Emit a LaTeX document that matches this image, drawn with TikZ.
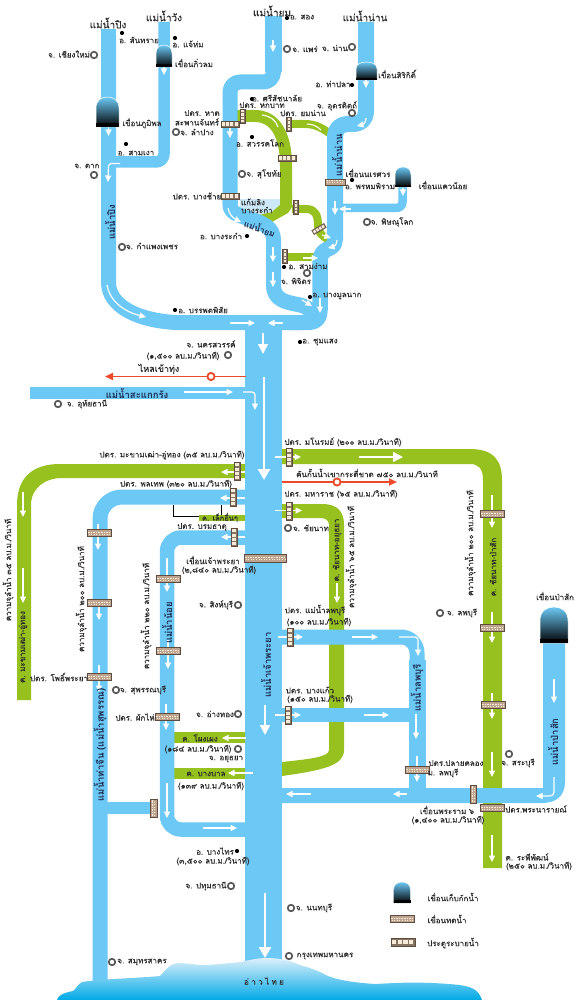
\documentclass[tikz,border=0pt]{standalone}
\usepackage{fontspec}
\setmainfont[Script=Thai]{Loma}
\newfontfamily\lbfont[Script=Thai,FakeBold=0.2]{Loma}
\usetikzlibrary{arrows.meta}
\definecolor{riv}{HTML}{6CC8F5}
\definecolor{grn}{HTML}{96C11E}
\definecolor{pale}{HTML}{CDE8F8}
\definecolor{redl}{HTML}{EB4A2B}
\definecolor{tan}{HTML}{BFA58F}
\definecolor{tandk}{HTML}{5E4C3E}
\definecolor{cream}{HTML}{F8EBD8}
\definecolor{ink}{HTML}{2A2A2A}
\definecolor{navy}{HTML}{1C2B4F}
\definecolor{ringc}{HTML}{5A5A5A}
\definecolor{dammid}{HTML}{8594A0}
\definecolor{seabot}{HTML}{00A9E6}
\tikzset{
 x=1pt,y=-1pt,
 lb/.style={font=\lbfont\fontsize{8}{9}\selectfont,text=ink,inner sep=0pt},
 hd/.style={font=\lbfont\fontsize{10}{11}\selectfont,text=ink,inner sep=0pt},
 rv/.style={font=\fontsize{9.5}{10}\selectfont\bfseries,text=navy,inner sep=0pt},
 vt/.style={rotate=90},
 rivl/.style={draw=riv,line cap=butt,line join=round},
 grl/.style={draw=grn,line cap=butt,line join=round},
 wa/.style={draw=white,line width=1.2pt,-{Triangle[width=6pt,length=6.5pt]}},
 wb/.style={draw=white,line width=1.7pt,-{Triangle[width=10pt,length=10pt]}},
 wc/.style={draw=white,line width=2.6pt,-{Triangle[width=12pt,length=11pt]}},
 redarrow/.style={draw=redl,line width=1.8pt,-{Triangle[width=7pt,length=8pt]}},
 ring/.style={circle,draw=ringc,line width=1.7pt,fill=white,minimum size=6.5pt,inner sep=0pt},
 dot/.style={circle,fill=black,minimum size=4.2pt,inner sep=0pt},
 redring/.style={circle,draw=redl,line width=1.7pt,fill=white,minimum size=7pt,inner sep=0pt},
}
% storage dam: centre x, top y, width, height
\newcommand{\resdam}[4]{%
 \path[top color=riv,middle color=dammid,bottom color=black,draw=white,line width=.5pt]
  ({#1-#3/2},{#2+#4}) -- ({#1-#3/2},{#2+#4*0.38})
  .. controls ({#1-#3/2},{#2+#4*0.1}) and ({#1-#3/4},{#2}) .. (#1,#2)
  .. controls ({#1+#3/4},{#2}) and ({#1+#3/2},{#2+#4*0.1}) .. ({#1+#3/2},{#2+#4*0.38})
  -- ({#1+#3/2},{#2+#4}) -- cycle;
 \fill[black] ({#1-#3/2},{#2+#4*0.88}) rectangle ({#1+#3/2},{#2+#4});}
% diversion dam: x,y,len,thick,rot
\newcommand{\regul}[5]{%
 \begin{scope}[shift={(#1,#2)},rotate=#5]
 \fill[tan,draw=tandk,line width=.5pt] ({-#3/2},{-#4/2}) rectangle ({#3/2},{#4/2});
 \draw[cream,line width=1pt,dash pattern=on 1.6pt off 1pt] ({-#3/2+1},-1) -- ({#3/2-1},-1);
 \draw[cream,line width=1pt,dash pattern=on 1pt off 1.6pt] ({-#3/2+1.5},1) -- ({#3/2-1},1);
 \end{scope}}
% gate: x,y,len,rot
\newcommand{\gatebox}[4]{%
 \begin{scope}[shift={(#1,#2)},rotate=#4]
 \fill[tan!70!black,draw=tandk,line width=.5pt] ({-#3/2},{-#3/6}) rectangle ({#3/2},{#3/6});
 \foreach \k in {0,1,2,3}{
  \fill[cream] ({-#3/2+#3*0.05+\k*#3*0.235},{-#3/6+#3*0.07}) rectangle ++({#3*0.17},{#3*0.19});}
 \end{scope}}
\begin{document}
\begin{tikzpicture}
\useasboundingbox (0,0) rectangle (580,1000);
\fill[white] (0,0) rectangle (580,1000);
% pale retention area
\fill[pale] (240,199) rectangle (282,216);
% ---- green canals
\draw[grl,line width=12pt] (237,116) -- (255,116) .. controls (275,116) and (286,135) .. (286,165) -- (286,200);
\fill[grn] (280,195) -- (292,195) -- (292,207) -- (288,213) -- (272,222) -- (255,218) -- (243,215) -- (255,216) -- (272,212) -- (280,205) -- cycle;
\draw[grl,line width=8pt] (288,124) -- (305,124) .. controls (315,124) and (322,128) .. (329,133);
\draw[grl,line width=8pt] (292,209) -- (306,209) .. controls (316,209) and (318,216) .. (318,226) .. controls (318,232) and (322,237) .. (330,240);
\draw[grl,line width=8pt] (282,257) -- (320,257);
\fill[grn] (246,464) -- (60,464) .. controls (30,464) and (17,480) .. (17,505) -- (17,700) -- (31,700) -- (31,505) .. controls (31,488) and (45,478) .. (62,478) -- (246,478) -- cycle;
\fill[grn] (282,449) -- (470,449) .. controls (495,449) and (502,462) .. (502,480) -- (502,868) -- (483,868) -- (483,480) .. controls (483,468) and (478,464) .. (470,464) -- (282,464) -- cycle;
\fill[grn] (282,504) -- (322,504) .. controls (338,504) and (344,512) .. (344,525) -- (344,750) .. controls (344,765) and (325,770) .. (282,776) -- (282,762) .. controls (310,759) and (329,757) .. (329,750) -- (329,525) .. controls (329,520) and (325,518) .. (320,518) -- (282,518) -- cycle;
\fill[grn] (174,732) rectangle (246,743);
\fill[grn] (174,768) rectangle (246,779);
\fill[grn] (199,515) rectangle (246,521);
% ---- blue rivers
\draw[rivl,line width=15pt] (108.5,29) -- (108.5,283) .. controls (109,305) and (135,320) .. (175,322.5) -- (300,322.5);
\draw[rivl,line width=11.5pt,rounded corners=8pt] (164,22) -- (164,162) -- (108,162);
\draw[rivl,line width=15pt,rounded corners=10pt] (273.5,40) -- (273.5,82) -- (230,82) -- (230,205);
\draw[rivl,line width=17pt] (273.5,16) -- (273.5,72);
\draw[rivl,line width=15pt] (230,200) -- (230,205) .. controls (230,222) and (273.5,215) .. (273.5,240) -- (273.5,285) .. controls (273.5,300) and (285,302) .. (300,305) .. controls (308,307) and (314,312) .. (318,320);
\draw[rivl,line width=16pt,rounded corners=12pt] (366,22) -- (366,124) -- (335,124) -- (335,240);
\draw[rivl,line width=15.5pt] (335,235) -- (335,240) .. controls (335,252) and (320,245) .. (320,262) -- (320,310);
\draw[rivl,line width=15pt,rounded corners=10pt] (320,305) -- (320,322.5) -- (290,322.5);
\draw[rivl,line width=8.5pt,rounded corners=6pt] (402.5,186) -- (402.5,208) -- (335,208);
\fill[riv] (245,320) rectangle (282,985);
\fill[riv] (30,387) rectangle (246,399);
\draw[rivl,line width=15pt,rounded corners=22pt] (246,497) -- (100,497) -- (100,985);
\draw[rivl,line width=14.5pt,rounded corners=14pt] (246,537.5) -- (167,537.5) -- (167,829.5) -- (246,829.5);
\draw[rivl,line width=12pt] (100,808) -- (154,808);
\draw[rivl,line width=15pt,rounded corners=16pt] (282,637) -- (417,637) -- (417,790);
\draw[rivl,line width=17pt] (417,660) -- (417,795);
\draw[rivl,line width=14pt] (282,715) -- (417,715);
\fill[riv] (282,788) -- (543,788) -- (543,640) -- (565,640) -- (565,782) .. controls (565,796) and (556,803) .. (542,803) -- (282,803) -- cycle;
% ---- red
\node[redring] (rA) at (211,376.5) {};
\node[redring] (rB) at (337,482) {};
\coordinate (rA0) at (246,376.5); \coordinate (rA1) at (105,376.5);
\coordinate (rB0) at (282,482); \coordinate (rB1) at (397,482);
\draw[redarrow] (rA0) -- (rA1);
\draw[redarrow] (rB0) -- (rB1);
\node[redring] at (rA) {};
\node[redring] at (rB) {};
% ---- white arrows
\draw[wa] (108.5,127) -- (108.5,136);
\draw[wa] (164,67) -- (164,75);
\draw[wa] (273,40) -- (273,52);
\draw[wa] (366,80) -- (366,88);
\draw[wa] (230,128) -- (230,138);
\draw[wa,rounded corners=3pt] (120,163.5) -- (108.5,163.5) -- (108,182);
\draw[wa] (107,285) .. controls (110,302) and (125,312) .. (146,317);
\draw[wa] (228,208) .. controls (229,214) and (233,218) .. (241,222);
\draw[wa] (273,247) -- (273,262);
\draw[wa] (273,272) -- (273,287);
\draw[wa] (302,300) -- (312,306);
\draw[wa] (320,298) -- (320,313);
\draw[wa] (230,323) -- (255,323);
\draw[wa] (283,323) -- (268,323);
\draw[wb] (263,333) -- (263,354);
\draw[wa] (335,201) -- (335,215);
\draw[wa] (351,209) -- (339,209);
\draw[wa] (403,188) -- (403,196);
\draw[wa,rounded corners=3pt] (337,240) -- (336,246) -- (328,248);
\draw[wa] (322,235) -- (331,238);
\draw[wa] (303,258) -- (318,258);
\draw[wa,rounded corners=3pt] (366,118) -- (365,124) -- (357,126);
\draw[draw=white,line width=1.1pt] (262,115) .. controls (270,116) and (276,120) .. (278,127);
\draw[draw=white,line width=1.1pt] (307,124) .. controls (312,124) and (317,126) .. (321,130);
% main
\draw[wc] (264,377) -- (264,480);
\draw[wa] (184,392) -- (233,392);
\draw[wa,rounded corners=3pt] (243,392) -- (255,392) -- (255,410);
\draw[wa] (245,472) -- (221,472);
\draw[wa] (245,498) -- (220,498);
\draw[wa] (245,537) -- (221,537);
\draw[wa] (275,457) -- (301,457);
\draw[wb] (359,457) -- (403,457);
\draw[wa] (275,510.5) -- (302,510.5);
\draw[wa] (337,583) -- (337,603);
\draw[wa] (492,495) -- (492,528);
\draw[wa] (492,612) -- (492,643);
\draw[wa] (492,693) -- (492,719);
\draw[wa] (492,752) -- (492,777);
\draw[wa] (492,835) -- (492,862);
\draw[wa] (278,637) -- (303,637);
\draw[wa] (352,637) -- (378,637);
\draw[wa,rounded corners=3pt] (399,637) -- (418,637) -- (418,656);
\draw[wa] (275,715) -- (301,715);
\draw[wa] (364,715) -- (389,715);
\draw[wa] (416,714) -- (416,739);
\draw[wa] (417,756) -- (417,782);
\draw[wa] (311,794) -- (286,794);
\draw[wa] (407,794) -- (393,794);
\draw[wa,rounded corners=4pt] (554,777) -- (554,796) -- (536,796);
\draw[wa] (554,679) -- (554,703);
\draw[wa] (23,492) -- (23,517);
\draw[wa] (23,568) -- (23,603);
\draw[wa] (98,524) -- (98,550);
\draw[wa] (99,600) -- (99,620);
\draw[wa] (99,665) -- (99,692);
\draw[wa] (167,558) -- (167,592);
\draw[wa] (168,640) -- (168,669);
\draw[wa] (166,704) -- (166,730);
\draw[wa] (167,783) -- (167,818);
\draw[wa] (203,828) -- (237,828);
\draw[wa] (246,738) -- (222,738);
\draw[wa] (253,773) -- (228,773);
\draw[wb] (265,705) -- (265,735);
\draw[wc] (265,893) -- (265,958);
% black leader lines
\coordinate (lk0) at (173,505); \coordinate (lk1) at (221,505);
\draw[black,line width=.7pt] (lk0) -- (173,516) -- (199,516);
\draw[black,line width=.7pt] (lk1) -- (221,515);
% ---- storage dams
\resdam{164}{45}{16}{22}
\resdam{107.5}{97}{23}{30}
\resdam{366.5}{62}{21}{18}
\resdam{403}{167}{16}{20}
\resdam{554}{607}{28}{36}
\resdam{402}{882}{17}{21}
% ---- diversion dams
\regul{99}{533}{24}{7}{0}
\regul{99}{603}{24}{7}{0}
\regul{99}{677}{24}{7}{0}
\regul{168}{579}{24}{7}{0}
\regul{168}{651}{24}{7}{0}
\regul{167}{717}{24}{7}{0}
\regul{153.5}{808}{18}{6.5}{90}
\regul{265}{558}{42}{8}{0}
\regul{492}{514}{24}{7}{0}
\regul{492}{628}{24}{7}{0}
\regul{493}{705}{24}{7}{0}
\regul{417}{770}{24}{7}{0}
\regul{473}{794}{18}{6}{90}
\regul{492}{808}{24}{7}{0}
\regul{335}{182}{20}{6}{0}
\regul{402}{919}{24}{7}{0}
% ---- gates
\gatebox{230}{124}{18}{0}
\gatebox{242.5}{116}{14}{90}
\gatebox{289}{124}{14}{90}
\gatebox{287}{158}{18}{0}
\gatebox{230}{196}{18}{0}
\gatebox{296}{207}{14}{90}
\gatebox{319}{229}{14}{30}
\gatebox{285}{256}{14}{90}
\gatebox{237}{471}{18}{90}
\gatebox{233}{497}{18}{90}
\gatebox{234}{537}{18}{90}
\gatebox{289}{457}{18}{90}
\gatebox{289}{511}{18}{90}
\gatebox{290}{637}{18}{90}
\gatebox{288}{715}{18}{90}
\gatebox{403}{942}{24}{0}
% ---- markers
\node[dot] (d1) at (122,33) {};
\node[dot] (d2) at (175,38) {};
\node[dot] (d3) at (126,144) {};
\node[dot] (d4) at (252,137) {};
\node[dot] (d5) at (252,99) {};
\node[dot] (d6) at (287,18) {};
\node[dot] (d7) at (352,85) {};
\node[dot] (d8) at (352,180) {};
\node[dot] (d9) at (247,236) {};
\node[dot] (d10) at (284,267) {};
\node[dot] (d11) at (310,297) {};
\node[dot] (d12) at (300,342) {};
\node[dot] (d13) at (175,310) {};
\node[dot] (d14) at (237,851) {};
\node[ring] (o1) at (94,55) {};
\node[ring] (o2) at (94,175) {};
\node[ring] (o3) at (176,132) {};
\node[ring] (o4) at (287,49) {};
\node[ring] (o5) at (352,47) {};
\node[ring] (o6) at (352,113) {};
\node[ring] (o7) at (242,174) {};
\node[ring] (o8) at (367,222) {};
\node[ring] (o9) at (122,247) {};
\node[ring] (o10) at (307,273) {};
\node[ring] (o11) at (228,355) {};
\node[ring] (o12) at (58,404) {};
\node[ring] (o13) at (288,528) {};
\node[ring] (o14) at (440,613) {};
\node[ring] (o15) at (238,605) {};
\node[ring] (o16) at (116,690) {};
\node[ring] (o17) at (238,714) {};
\node[ring] (o18) at (238,749) {};
\node[ring] (o19) at (509,754) {};
\node[ring] (o20) at (231,886) {};
\node[ring] (o21) at (291,908) {};
\node[ring] (o22) at (289,956) {};
\node[ring] (o23) at (112,962) {};
% ---- sea
\path[top color=pale!70,bottom color=seabot,shading angle=0]
 (57,1000) .. controls (58,996) and (62,993) .. (73,991) .. controls (76,989) and (78,984) .. (82,982)
 .. controls (100,979) and (140,978) .. (160,976) .. controls (164,972) and (168,965) .. (177,963)
 .. controls (190,963) and (200,966) .. (207,965) .. controls (220,964) and (230,963) .. (240,962)
 .. controls (250,960) and (258,958) .. (267,958) .. controls (280,958) and (292,961) .. (300,965)
 .. controls (310,968) and (316,970) .. (322,973) .. controls (330,978) and (345,982) .. (375,984)
 .. controls (395,983) and (420,981) .. (460,985) .. controls (470,987) and (478,988) .. (482,1000) -- cycle;
% ---- headings
\node[hd] (h1) at (108,23) {แม่น้ำปิง};
\node[hd] (h2) at (164,16) {แม่น้ำวัง};
\node[hd] (h3) at (272,11) {แม่น้ำยม};
\node[hd] (h4) at (365,16) {แม่น้ำน่าน};
% ---- river names
\node[rv,vt] (r1) at (110,222) {แม่น้ำปิง};
\node[rv,vt] (r2) at (337,155) {แม่น้ำน่าน};
\node[rv,rotate=-20,font=\fontsize{8.5}{9}\selectfont\bfseries] (r3) at (260,228) {แม่น้ำยม};
\node[rv] (r4) at (137,393) {แม่น้ำสะแกกรัง};
\node[rv,vt] (r5) at (167,623) {แม่น้ำน้อย};
\node[rv,vt] (r6) at (266,665) {แม่น้ำเจ้าพระยา};
\node[rv,vt] (r7) at (100,745) {แม่น้ำท่าจีน (แม่น้ำสุพรรณ)};
\node[rv,vt] (r8) at (417,688) {แม่น้ำลพบุรี};
\node[rv,vt] (r9) at (553,742) {แม่น้ำป่าสัก};
% ---- labels
\node[lb] (t1) at (139,40) {อ. สันทราย};
\node[lb] (t2) at (188,44) {อ. แจ้ห่ม};
\node[lb] (t3) at (69,54) {จ. เชียงใหม่};
\node[lb] (t4) at (194,63) {เขื่อนกิ่วลม};
\node[lb] (t5) at (142,123) {เขื่อนภูมิพล};
\node[lb] (t6) at (136,153) {อ. สามเงา};
\node[lb] (t7) at (87,166) {จ. ตาก};
\node[lb] (t8) at (202,113) {ปตร. หาด};
\node[lb] (t9) at (197,122) {สะพานจันทร์};
\node[lb] (t10) at (197,132) {จ. ลำปาง};
\node[lb] (t11) at (260,143) {อ. สวรรคโลก};
\node[lb] (t12) at (262,105) {ปตร. หกบาท};
\node[lb] (t13) at (277,98) {อ. ศรีสัชนาลัย};
\node[lb] (t14) at (302,17) {อ. สอง};
\node[lb] (t15) at (305,49) {จ. แพร่};
\node[lb] (t16) at (335,48) {จ. น่าน};
\node[lb] (t17) at (397,74) {เขื่อนสิริกิติ์};
\node[lb] (t18) at (333,84) {อ. ท่าปลา};
\node[lb] (t19) at (337,106) {จ. อุตรดิตถ์};
\node[lb] (t20) at (303,113) {ปตร. ยมน่าน};
\node[lb] (t21) at (264,174) {จ. สุโขทัย};
\node[lb] (t22) at (368,173) {เขื่อนนเรศวร};
\node[lb] (t23) at (370,186) {อ. พรหมพิราม};
\node[lb] (t24) at (443,185) {เขื่อนแควน้อย};
\node[lb] (t25) at (392,222) {จ. พิษณุโลก};
\node[lb] (t26) at (197,196) {ปตร. บางช้าย};
\node[lb] (t27) at (253,202) {แก้มลิง};
\node[lb] (t28) at (257,210) {บางระกำ};
\node[lb] (t29) at (221,236) {อ. บางระกำ};
\node[lb] (t30) at (308,266) {อ. สามง่าม};
\node[lb] (t31) at (296,281) {จ. พิจิตร};
\node[lb] (t32) at (337,296) {อ. บางมูลนาก};
\node[lb] (t33) at (320,342) {อ. ชุมแสง};
\node[lb] (t34) at (203,310) {อ. บรรพตพิสัย};
\node[lb] (t35) at (152,246) {จ. กำแพงเพชร};
\node[lb] (t36) at (211,344) {จ. นครสวรรค์};
\node[lb] (t37) at (183,356) {(๑,๕๐๐ ลบ.ม./วินาที)};
\node[lb,font=\lbfont\fontsize{9}{10}\selectfont] (t38) at (159,369) {ไหลเข้าทุ่ง};
\node[lb] (t39) at (87,404) {จ. อุทัยธานี};
\node[lb] (t40) at (172,455) {ปตร. มะขามเฒ่า-อู่ทอง (๓๕ ลบ.ม./วินาที)};
\node[lb] (t41) at (176,484) {ปตร. พลเทพ (๓๒๐ ลบ.ม./วินาที)};
\node[lb,font=\lbfont\fontsize{7.5}{8}\selectfont] (t42) at (220,517.5) {ค. เล็กอื่นๆ};
\node[lb] (t43) at (202,527) {ปตร. บรมธาตุ};
\node[lb] (t44) at (343,442) {ปตร. มโนรมย์ (๒๐๐ ลบ.ม./วินาที)};
\node[lb] (t45) at (367,473) {คันกั้นน้ำเขากระดี่ขาด ๗๕๐ ลบ.ม./วินาที};
\node[lb] (t46) at (341,494) {ปตร. มหาราช (๖๕ ลบ.ม./วินาที)};
\node[lb] (t47) at (311,528) {จ. ชัยนาท};
\node[lb,vt] (t48) at (337,550) {ค. ชัยนาท-อยุธยา};
\node[lb,vt] (t49) at (351,557) {ความจุลำน้ำ ๖๕ ลบ.ม./วินาที};
\node[lb,vt] (t50) at (493,567) {ค. ชัยนาท-ป่าสัก};
\node[lb,vt] (t51) at (470,543) {ความจุลำน้ำ ๒๐๐ ลบ.ม./วินาที};
\node[lb] (t52) at (462,613) {จ. ลพบุรี};
\node[lb] (t53) at (315,610) {ปตร. แม่น้ำลพบุรี};
\node[lb] (t54) at (319,622) {(๑๐๐ ลบ.ม./วินาที)};
\node[lb,vt] (t55) at (8,570) {ความจุลำน้ำ ๓๕ ลบ.ม./วินาที};
\node[lb,vt] (t56) at (23,647) {ค. มะขามเฒ่า-อู่ทอง};
\node[lb,vt] (t57) at (81,599) {ความจุลำน้ำ ๒๐๐ ลบ.ม./วินาที};
\node[lb] (t58) at (59,677) {ปตร. โพธิ์พระยา};
\node[lb] (t59) at (143,690) {จ. สุพรรณบุรี};
\node[lb,vt] (t60) at (146,616) {ความจุลำน้ำ ๒๒๐ ลบ.ม./วินาที};
\node[lb] (t61) at (213,560) {เขื่อนเจ้าพระยา};
\node[lb] (t62) at (219,570) {(๒,๘๔๐ ลบ.ม./วินาที)};
\node[lb] (t63) at (216,605) {จ. สิงห์บุรี};
\node[lb] (t64) at (135,717) {ปตร. ผักไห่};
\node[lb] (t65) at (215,714) {จ. อ่างทอง};
\node[lb] (t66) at (200,738) {ค. โผงเผง};
\node[lb] (t67) at (198,749) {(๑๘๔ ลบ.ม./วินาที)};
\node[lb] (t68) at (226,759) {จ. อยุธยา};
\node[lb] (t69) at (206,774) {ค. บางบาล};
\node[lb] (t70) at (211,786) {(๑๓๙ ลบ.ม./วินาที)};
\node[lb] (t71) at (215,851) {อ. บางไทร};
\node[lb] (t72) at (213,861) {(๓,๕๐๐ ลบ.ม./วินาที)};
\node[lb] (t73) at (206,886) {จ. ปทุมธานี};
\node[lb] (t74) at (142,962) {จ. สมุทรสาคร};
\node[lb] (t75) at (310,690) {ปตร. บางแก้ว};
\node[lb] (t76) at (320,699) {(๑๕๐ ลบ.ม./วินาที)};
\node[lb] (t77) at (456,763) {ปตร.ปลายคลอง};
\node[lb] (t78) at (443,773) {ม. ลพบุรี};
\node[lb] (t79) at (518,763) {จ. สระบุรี};
\node[lb] (t80) at (555,596) {เขื่อนป่าสัก};
\node[lb] (t81) at (447,810) {เขื่อนพระราม ๖};
\node[lb] (t82) at (448,820) {(๑,๔๐๐ ลบ.ม./วินาที)};
\node[lb] (t83) at (536,809) {ปตร.พระนารายณ์};
\node[lb] (t84) at (527,857) {ค. ระพีพัฒน์};
\node[lb] (t85) at (539,866) {(๒๕๐ ลบ.ม./วินาที)};
\node[lb] (t86) at (453,897) {เขื่อนเก็บกักน้ำ};
\node[lb] (t87) at (447,919) {เขื่อนทดน้ำ};
\node[lb] (t88) at (453,943) {ประตูระบายน้ำ};
\node[lb] (t89) at (314,908) {จ. นนทบุรี};
\node[lb] (t90) at (325,956) {กรุงเทพมหานคร};
\node[lb] (t91) at (264,981) {\addfontfeature{LetterSpace=30}อ่าวไทย};
\end{tikzpicture}
\end{document}
